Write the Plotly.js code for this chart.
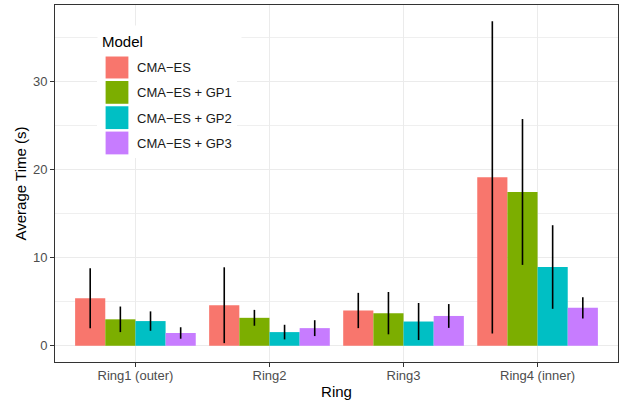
<!DOCTYPE html>
<html>
<head>
<meta charset="utf-8">
<script src="https://cdn.plot.ly/plotly-3.0.1.min.js"></script>
<style>html,body{margin:0;padding:0;background:#fff;}#chart{width:627px;height:405px;}</style>
</head>
<body>
<div id="chart"></div>
<script>
// ---- data ----
const categories = ['Ring1 (outer)', 'Ring2', 'Ring3', 'Ring4 (inner)'];
const models = ['CMA\u2212ES', 'CMA\u2212ES + GP1', 'CMA\u2212ES + GP2', 'CMA\u2212ES + GP3'];
const legendTitle = 'Model';
const cmaes    = [5.4, 4.6, 4.0, 19.1];
const cmaesErr = [3.4, 4.3, 2.0, 17.7];
const gp1      = [3.0, 3.17, 3.7, 17.44];
const gp1Err   = [1.45, 0.9, 2.4, 8.27];
const gp2      = [2.8, 1.55, 2.75, 8.93];
const gp2Err   = [1.1, 0.83, 2.1, 4.74];
const gp3      = [1.45, 2.0, 3.38, 4.3];
const gp3Err   = [0.65, 0.9, 1.35, 1.2];
const yTicks   = [0, 10, 20, 30];

const colors = ['#F8766D', '#7CAE00', '#00BFC4', '#C77CFF'];
const means = [cmaes, gp1, gp2, gp3];
const errs = [cmaesErr, gp1Err, gp2Err, gp3Err];

const traces = models.map((m, i) => ({
  type: 'bar',
  name: m,
  legendgroup: 'g' + i,
  x: categories,
  y: means[i],
  marker: {color: colors[i], line: {width: 0}},
  error_y: {type: 'data', array: errs[i], visible: true, color: '#000000', thickness: 1.6, width: 0},
  hoverinfo: 'x+y+name'
}));

// ggplot-like 5% expansion of the data range (bars start at 0)
let maxVal = 0;
means.forEach((s, i) => s.forEach((v, j) => { maxVal = Math.max(maxVal, v + errs[i][j]); }));
const yRange = [-0.05 * maxVal, 1.05 * maxVal];

const font = 'Liberation Sans, Arial, Helvetica, sans-serif';
const layout = {
  width: 627, height: 405,
  margin: {l: 55, r: 9, t: 5, b: 43, pad: 0},
  paper_bgcolor: '#ffffff',
  plot_bgcolor: '#ffffff',
  font: {family: font, size: 13, color: '#000000'},
  barmode: 'group',
  bargap: 0.1,
  bargroupgap: 0,
  showlegend: true,
  legend: {
    x: 0.0746, y: 0.868, xanchor: 'left', yanchor: 'top',
    bgcolor: '#ffffff', borderwidth: 0,
    font: {family: font, size: 13, color: '#1a1a1a'},
    tracegroupgap: 5.4,
    itemclick: false, itemdoubleclick: false
  },
  annotations: [{
    xref: 'paper', yref: 'paper', x: 0.0746, y: 0.944, xanchor: 'left', yanchor: 'top',
    text: legendTitle, showarrow: false, align: 'left', valign: 'middle',
    width: 135, height: 22, borderpad: 4, bgcolor: '#ffffff',
    font: {family: font, size: 15, color: '#000000'}
  }],
  xaxis: {
    type: 'category',
    range: [-0.6, 3.6],
    showgrid: true, gridcolor: '#EBEBEB', gridwidth: 1.2,
    showline: true, linecolor: '#333333', linewidth: 1, mirror: true,
    ticks: 'outside', ticklen: 4, tickcolor: '#333333', tickwidth: 1,
    ticklabelstandoff: -3,
    tickfont: {family: font, size: 13, color: '#4D4D4D'},
    title: {text: 'Ring', font: {family: font, size: 15, color: '#000000'}, standoff: 4},
    zeroline: false, fixedrange: true
  },
  yaxis: {
    range: yRange,
    tickmode: 'array', tickvals: yTicks, ticktext: yTicks.map(String),
    showgrid: true, gridcolor: '#EBEBEB', gridwidth: 1.2,
    minor: {tickmode: 'linear', tick0: 5, dtick: 10, showgrid: true, gridcolor: '#EDEDED', gridwidth: 0.9, ticks: ''},
    showline: true, linecolor: '#333333', linewidth: 1, mirror: true,
    ticks: 'outside', ticklen: 4, tickcolor: '#333333', tickwidth: 1,
    tickfont: {family: font, size: 13, color: '#4D4D4D'},
    title: {text: 'Average Time (s)', font: {family: font, size: 15, color: '#000000'}, standoff: 2},
    zeroline: false, fixedrange: true
  }
};

const gd = document.getElementById('chart');
function enlargeKeys() {
  gd.querySelectorAll('.legend .legendpoints path').forEach(p => {
    p.setAttribute('transform', 'translate(20,0) scale(1.9)');
  });
}
Plotly.newPlot(gd, traces, layout, {displayModeBar: false, staticPlot: true}).then(() => {
  enlargeKeys();
  gd.on('plotly_afterplot', enlargeKeys);
});
</script>
</body>
</html>
